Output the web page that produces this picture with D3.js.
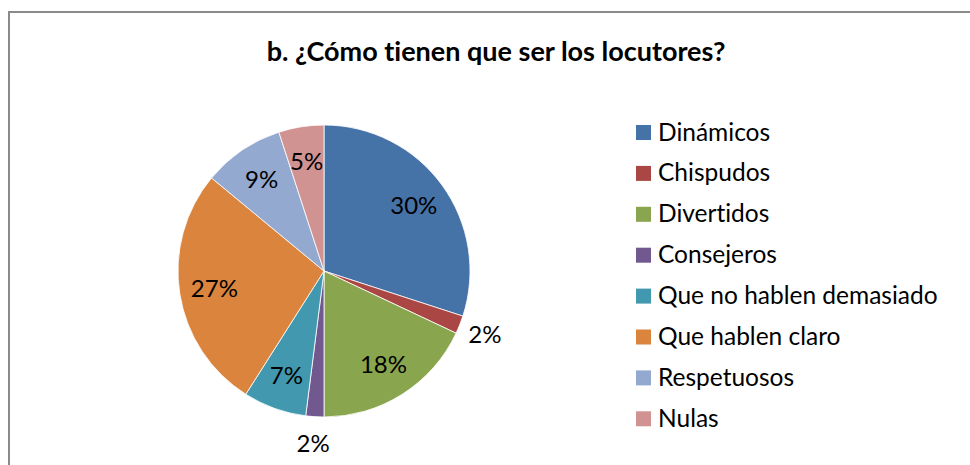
<!DOCTYPE html>
<html>
<head>
<meta charset="utf-8">
<script src="https://cdn.jsdelivr.net/npm/d3@7"></script>
<style>
  body { margin: 0; background: #fff; }
  text { font-family: Lato, "Open Sans", sans-serif; fill: #000; font-variant-ligatures: none; }
</style>
</head>
<body>
<svg id="chart"></svg>
<script>
// data
const categories = ["Dinámicos", "Chispudos", "Divertidos", "Consejeros",
    "Que no hablen demasiado", "Que hablen claro", "Respetuosos", "Nulas"];
const values = [30, 2, 18, 2, 7, 27, 9, 5];
const colors = ["#4572A7", "#AA4643", "#89A54E", "#71588F",
    "#4198AF", "#DB843D", "#93A9CF", "#D19392"];
const title = "b. ¿Cómo tienen que ser los locutores?";

const svgWidth = 970,
    svgHeight = 465,
    cx = 324,
    cy = 271,
    radius = 146;

const chart = d3.select("#chart")
    .attr("width", svgWidth)
    .attr("height", svgHeight);

// frame (runs off right/bottom edge like the original)
chart.append("rect")
    .attr("x", 9)
    .attr("y", 12)
    .attr("width", 1000)
    .attr("height", 1000)
    .attr("fill", "none")
    .attr("stroke", "#8a8a8a")
    .attr("stroke-width", 2);

chart.append("text")
    .attr("x", 496)
    .attr("y", 61)
    .attr("text-anchor", "middle")
    .style("font-size", "27px")
    .style("font-weight", "bold")
    .text(title);

var pie = d3.pie().sort(null).value(d => d);
var arcs = pie(values);

var arc = d3.arc().innerRadius(0).outerRadius(radius);

var g = chart.append("g")
    .attr("transform", "translate(" + cx + "," + cy + ")");

g.selectAll(".slice")
    .data(arcs)
    .enter()
    .append("path")
    .attr("class", "slice")
    .attr("d", arc)
    .attr("fill", (d, i) => colors[i])
    .attr("stroke", "#fff")
    .attr("stroke-width", 0.8);

// labels: small slices sit outside the pie
g.selectAll(".lbl")
    .data(arcs)
    .enter()
    .append("text")
    .attr("class", "lbl")
    .attr("transform", function(d) {
        var r = d.value < 3 ? 173 : 111;
        var a = (d.startAngle + d.endAngle) / 2;
        return "translate(" + (Math.sin(a) * r) + "," + (-Math.cos(a) * r) + ")";
    })
    .attr("text-anchor", "middle")
    .attr("dy", "0.35em")
    .style("font-size", "24px")
    .text(d => d.value + "%");

// legend
var legend = chart.append("g")
    .attr("transform", "translate(636,132)");

var item = legend.selectAll(".item")
    .data(categories)
    .enter()
    .append("g")
    .attr("class", "item")
    .attr("transform", (d, i) => "translate(0," + (i * 40.9) + ")");

item.append("rect")
    .attr("x", 0)
    .attr("y", -7)
    .attr("width", 15)
    .attr("height", 15)
    .attr("fill", (d, i) => colors[i]);

item.append("text")
    .attr("x", 22)
    .attr("dy", "0.35em")
    .style("font-size", "24.5px")
    .text(d => d);
</script>
</body>
</html>
